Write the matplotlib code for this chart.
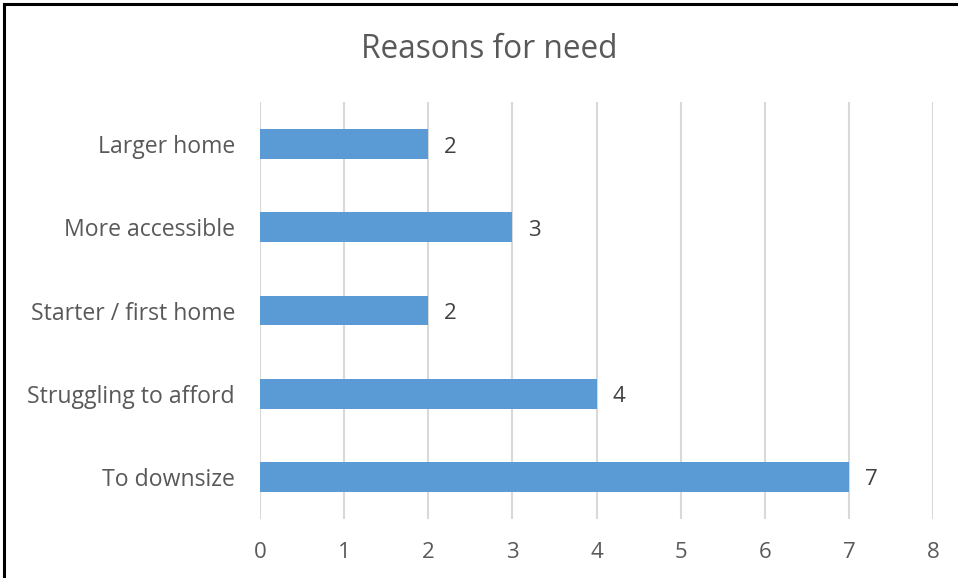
import matplotlib
matplotlib.use("Agg")
import matplotlib.pyplot as plt
from matplotlib.lines import Line2D

categories = ["Larger home", "More accessible", "Starter / first home", "Struggling to afford", "To downsize"]
values = [2, 3, 2, 4, 7]
xticks = [0, 1, 2, 3, 4, 5, 6, 7, 8]

plt.rcParams['font.family'] = ['Open Sans', 'DejaVu Sans']
W, H = 958, 578
fig = plt.figure(figsize=(W/100, H/100), dpi=100)
ax = fig.add_axes([260/W, 1-518.6/H, (933-260)/W, (518.6-102.4)/H])

ypos = list(range(len(categories)))
ax.barh(ypos, values, height=0.355, color="#5b9bd5", zorder=3)
ax.set_ylim(len(categories)-0.5, -0.5)
ax.set_xlim(0, 8)
ax.set_xticks(xticks)
ax.set_xticklabels([str(t) for t in xticks])
ax.set_yticks(ypos)
ax.set_yticklabels(categories)
ax.grid(axis='x', color="#d9d9d9", linewidth=1.5, zorder=0)
ax.grid(axis='y', visible=False)
for s in ax.spines.values():
    s.set_visible(False)
ax.tick_params(axis='x', length=0, colors="#595959", labelsize=16, pad=17)
ax.tick_params(axis='y', length=0, colors="#595959", labelsize=16.6, pad=18)

for y, v in zip(ypos, values):
    ax.annotate(str(v), (v, y), xytext=(16, -3), textcoords='offset pixels',
                ha='left', va='center', fontsize=16, color="#404040")

fig.text(489/W, 1-50/H, "Reasons for need", ha='center', va='center', fontsize=22.8, color="#595959")

fig.add_artist(Line2D([4/W, 4/W], [0, 1-4/H], color='black', linewidth=2.2, transform=fig.transFigure))
fig.add_artist(Line2D([4/W, 1], [1-4/H, 1-4/H], color='black', linewidth=2.2, transform=fig.transFigure))

fig.savefig("out.png", dpi=100)
